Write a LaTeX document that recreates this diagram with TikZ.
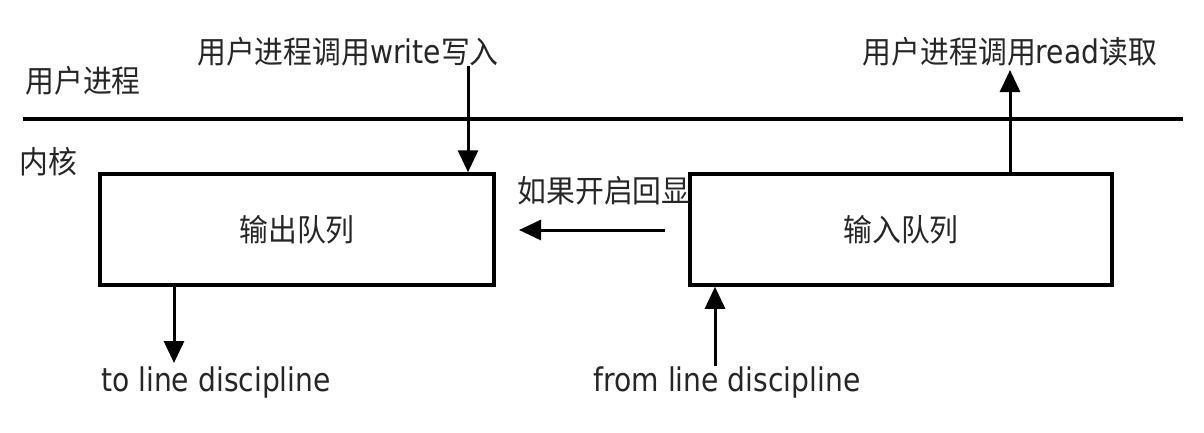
\documentclass[tikz,border=0pt]{standalone}
\usepackage{fontspec}
\setmainfont[Scale=1.05,FakeStretch=0.866]{DejaVu Sans}
\newfontfamily\cjk[FakeStretch=0.93]{Noto Sans CJK SC}
\usetikzlibrary{arrows.meta}
\tikzset{
  lbl/.style={inner sep=0pt, text=black!85, font=\fontsize{31}{33}\selectfont},
  queue/.style={draw, line width=3.5pt, inner sep=0pt, text=black!85, font=\fontsize{31}{33}\selectfont},
  flow/.style={line width=3pt, -{Triangle[length=22pt,width=20pt]}},
  divider/.style={line width=4pt}
}
\begin{document}
\begin{tikzpicture}[x=1pt,y=-1pt]
\useasboundingbox (0,0) rectangle (1204,432);
% divider
\coordinate (lineL) at (23,119);
\coordinate (lineR) at (1183,119);
\draw[divider] (lineL) -- (lineR);
\node[lbl] (user) at (83,81) {\cjk 用户进程};
\node[lbl] (kernel) at (48,162) {\cjk 内核};
% queues
\node[queue, minimum width=394pt, minimum height=111pt] (outq) at (297,229.5) {\cjk 输出队列};
\node[queue, minimum width=422pt, minimum height=111pt] (inq) at (901,229.5) {\cjk 输入队列};
% write
\node[lbl] (wtxt) at (348,52) {{\cjk 用户进程调用}write{\cjk 写入}};
\coordinate (wstart) at (468,66);
\draw[flow] (wstart) -- (wstart |- outq.north);
% read
\node[lbl] (rtxt) at (1010,52) {{\cjk 用户进程调用}read{\cjk 读取}};
\coordinate (rend) at (1010,70);
\draw[flow] (rend |- inq.north) -- (rend);
% echo
\node[lbl] (echo) at (604,191) {\cjk 如果开启回显};
\coordinate (estart) at (665,230);
\coordinate (eend) at (519,230);
\draw[flow] (estart) -- (eend);
% line discipline
\node[lbl] (todl) at (216,383) {to line discipline};
\node[lbl] (fromdl) at (727,383) {from line discipline};
\coordinate (toend) at (174,363);
\draw[flow] (toend |- outq.south) -- (toend);
\coordinate (fromstart) at (715,366);
\draw[flow] (fromstart) -- (fromstart |- inq.south);
\end{tikzpicture}
\end{document}
